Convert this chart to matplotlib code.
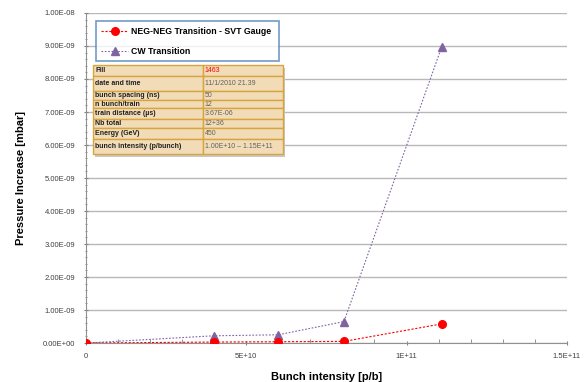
import matplotlib.pyplot as plt
from matplotlib.lines import Line2D
from matplotlib.ticker import MultipleLocator
from matplotlib.patches import Rectangle

# data
intensity = [0, 4.0e10, 6.0e10, 8.05e10, 1.11e11]
neg_neg = [0, 3e-11, 4e-11, 5e-11, 5.8e-10]
cw = [0, 2.2e-10, 2.5e-10, 6.5e-10, 8.98e-9]

yticks = [i * 1e-9 for i in range(11)]
ylabels = ["0.00E+00"] + ["%.2fE-09" % i for i in range(1, 10)] + ["1.00E-08"]
xticks = [0, 5e10, 1e11, 1.5e11]
xlabels = ["0", "5E+10", "1E+11", "1.5E+11"]

table_rows = [
    ("Fill", "1463"),
    ("date and time", "11/1/2010 21.39"),
    ("bunch spacing (ns)", "50"),
    ("n bunch/train", "12"),
    ("train distance (\u00b5s)", "3.67E-06"),
    ("Nb total", "12+36"),
    ("Energy (GeV)", "450"),
    ("bunch intensity (p/bunch)", "1.00E+10 \u2013 1.15E+11"),
]
row_heights = [11, 15, 9, 8, 11, 9, 11, 15]

plt.rcParams['font.family'] = ['Liberation Sans', 'DejaVu Sans']

fig = plt.figure(figsize=(5.88, 3.82), dpi=100)
ax = fig.add_axes([0.146, 0.102, 0.818, 0.864])

red = '#ff0000'
purple = '#8064a2'
ax.plot(intensity, neg_neg, linestyle=(0, (2, 1.5)), color=red, lw=0.8,
        marker='o', markersize=5.5, markeredgecolor=red, zorder=4)
ax.plot(intensity, cw, linestyle=(0, (1.5, 1.5)), color=purple, lw=0.8,
        marker='^', markersize=5.5, markeredgecolor=purple, zorder=3)

ax.set_xlim(0, 1.5e11)
ax.set_ylim(0, 1e-8)
ax.set_yticks(yticks)
ax.set_yticklabels(ylabels)
ax.set_xticks(xticks)
ax.set_xticklabels(xlabels)
ax.yaxis.set_minor_locator(MultipleLocator(2e-10))
ax.xaxis.set_minor_locator(MultipleLocator(1e10))
ax.tick_params(axis='both', which='major', labelsize=5.5, colors='#808080',
               labelcolor='#404040', length=3, direction='inout', pad=6)
ax.tick_params(axis='y', which='minor', length=2, direction='inout', colors='#808080')
ax.tick_params(axis='x', which='minor', length=3, direction='in', colors='#808080')
ax.grid(axis='y', color='#b8b8b8', lw=1)
ax.set_axisbelow(True)
for s in ['top', 'right']:
    ax.spines[s].set_visible(False)
for s in ['left', 'bottom']:
    ax.spines[s].set_color('#909090')

ax.set_xlabel("Bunch intensity [p/b]", fontsize=8, fontweight='bold', labelpad=8)
ax.set_ylabel("Pressure Increase [mbar]", fontsize=8, fontweight='bold', labelpad=12)

# legend
handles = [
    Line2D([], [], color=red, linestyle=(0, (2, 1.5)), lw=0.8, marker='o',
           markersize=5.5),
    Line2D([], [], color=purple, linestyle=(0, (1.5, 1.5)), lw=0.8, marker='^',
           markersize=5.5),
]
leg = ax.legend(handles, ["NEG-NEG Transition - SVT Gauge", "CW Transition"],
                loc='upper left', bbox_to_anchor=(0.0125, 0.852, 0.3975, 0.136),
                mode='expand', fancybox=False, frameon=True, handlelength=3,
                handletextpad=0.4, labelspacing=1.3, borderpad=0.6,
                prop={'size': 6.3, 'weight': 'bold'})
leg.get_frame().set_edgecolor('#4f81bd')
leg.get_frame().set_linewidth(1.2)

# info table
tab = ax.table(cellText=[list(r) for r in table_rows], cellLoc='left',
               colWidths=[0.58, 0.42],
               bbox=[0.0146, 0.573, 0.395, 0.269], zorder=6)
tab.auto_set_font_size(False)
tab.set_fontsize(5)
for (r, c), cell in tab.get_celld().items():
    cell.set_facecolor('#f2dcb8')
    cell.set_edgecolor('#d8a440')
    cell.set_linewidth(1)
    cell.set_height(row_heights[r] / 330)
    cell.PAD = 0.02
    t = cell.get_text()
    if c == 0:
        t.set_fontweight('bold')
        t.set_color('#202020')
    else:
        t.set_color('#606060')
    if r == 0 and c == 1:
        t.set_color(red)
# shadow behind the table
ax.add_patch(Rectangle((0.0196, 0.563), 0.395, 0.269, transform=ax.transAxes,
                       facecolor='#c8c8c8', edgecolor='none', zorder=5))

fig.savefig('out.png', dpi=100)
